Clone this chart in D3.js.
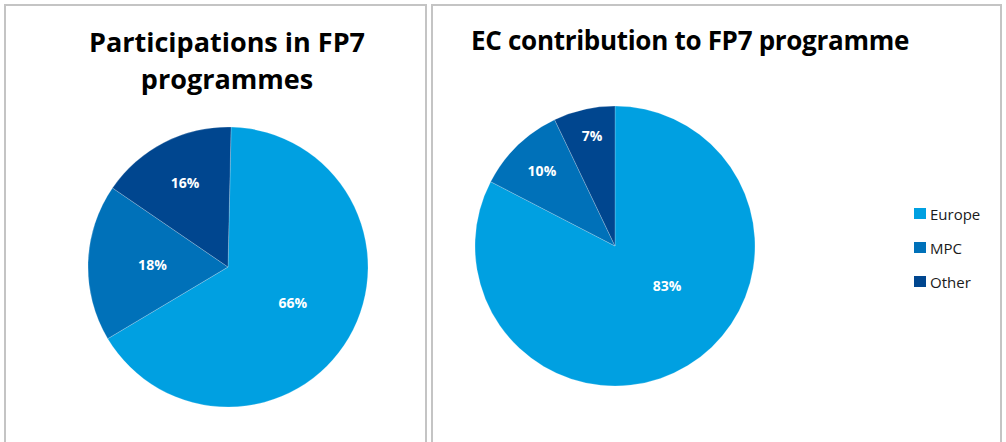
<!DOCTYPE html>
<html>
<head>
<meta charset="utf-8">
<script src="https://cdn.jsdelivr.net/npm/d3@7"></script>
<style>
  body { margin: 0; background: #fff; }
  svg { display: block; }
</style>
</head>
<body>
<svg id="chart"></svg>
<script>
// data
var categories = ['Europe', 'MPC', 'Other'];
var participations = [66.1, 18.1, 15.8];
var contribution = [82.6, 10.3, 7.1];
var leftTitle = ['Participations in FP7', 'programmes'];
var rightTitle = ['EC contribution to FP7 programme'];

var width = 1006;
var height = 442;
var radius = 140;

var color = d3
  .scaleOrdinal()
  .domain(categories)
  .range(['#00a0e1', '#0071b9', '#00468f']);

var svg = d3.select('#chart').attr('width', width).attr('height', height);

// panel frames
svg
  .append('path')
  .attr('d', 'M5,' + height + 'V5H426V' + height)
  .attr('fill', 'none')
  .attr('stroke', '#c4c4c4')
  .attr('stroke-width', 2);
svg
  .append('path')
  .attr('d', 'M432,' + height + 'V5H1001V' + height)
  .attr('fill', 'none')
  .attr('stroke', '#c4c4c4')
  .attr('stroke-width', 2);

function drawTitle(lines, x, y0, size, spacing) {
  svg
    .append('g')
    .selectAll('text')
    .data(lines)
    .enter()
    .append('text')
    .attr('x', x)
    .attr('y', (d, i) => y0 + i * 37)
    .attr('text-anchor', 'middle')
    .attr('font-family', 'Open Sans, sans-serif')
    .attr('font-weight', 'bold')
    .attr('font-size', size)
    .attr('letter-spacing', spacing)
    .attr('fill', '#000')
    .text((d) => d);
}

function drawPie(values, cx, cy, start, labelR, labelNudge) {
  var pie = d3
    .pie()
    .sort(null)
    .startAngle(start)
    .endAngle(start + 2 * Math.PI);
  var arc = d3.arc().innerRadius(0).outerRadius(radius);
  var total = d3.sum(values);
  var arcs = pie(values);

  var g = svg.append('g').attr('transform', 'translate(' + cx + ',' + cy + ')');
  g.selectAll('path')
    .data(arcs)
    .enter()
    .append('path')
    .attr('d', arc)
    .attr('fill', (d, i) => color(categories[i]))
    .attr('stroke', 'rgba(255,255,255,0.35)')
    .attr('stroke-width', 0.6);

  g.selectAll('text')
    .data(arcs)
    .enter()
    .append('text')
    .attr('transform', function (d, i) {
      var a = (d.startAngle + d.endAngle) / 2 + (labelNudge[i] * Math.PI) / 180;
      var r = labelR[i] * radius;
      return 'translate(' + r * Math.sin(a) + ',' + -r * Math.cos(a) + ')';
    })
    .attr('dy', '0.35em')
    .attr('text-anchor', 'middle')
    .attr('font-family', 'Open Sans, sans-serif')
    .attr('font-weight', 'bold')
    .attr('font-size', 14)
    .attr('fill', '#fff')
    .text((d) => Math.round((d.value / total) * 100) + '%');
}

drawTitle(leftTitle, 227, 52, 27, '0px');
drawTitle(rightTitle, 690, 50, 26, '-0.3px');

drawPie(participations, 228, 267, 0.022, [0.53, 0.54, 0.67], [-1, 0, 0]);
drawPie(contribution, 615, 246, 0, [0.47, 0.75, 0.8], [-21, 0, 1]);

// legend
var legend = svg
  .append('g')
  .selectAll('g')
  .data(categories)
  .enter()
  .append('g')
  .attr('transform', (d, i) => 'translate(914,' + (208 + i * 34) + ')');
legend
  .append('rect')
  .attr('width', 12)
  .attr('height', 11)
  .attr('fill', (d) => color(d));
legend
  .append('text')
  .attr('x', 16)
  .attr('y', 12)
  .attr('font-family', 'Open Sans, sans-serif')
  .attr('font-size', 15)
  .attr('fill', '#1a1a1a')
  .text((d) => d);
</script>
</body>
</html>
